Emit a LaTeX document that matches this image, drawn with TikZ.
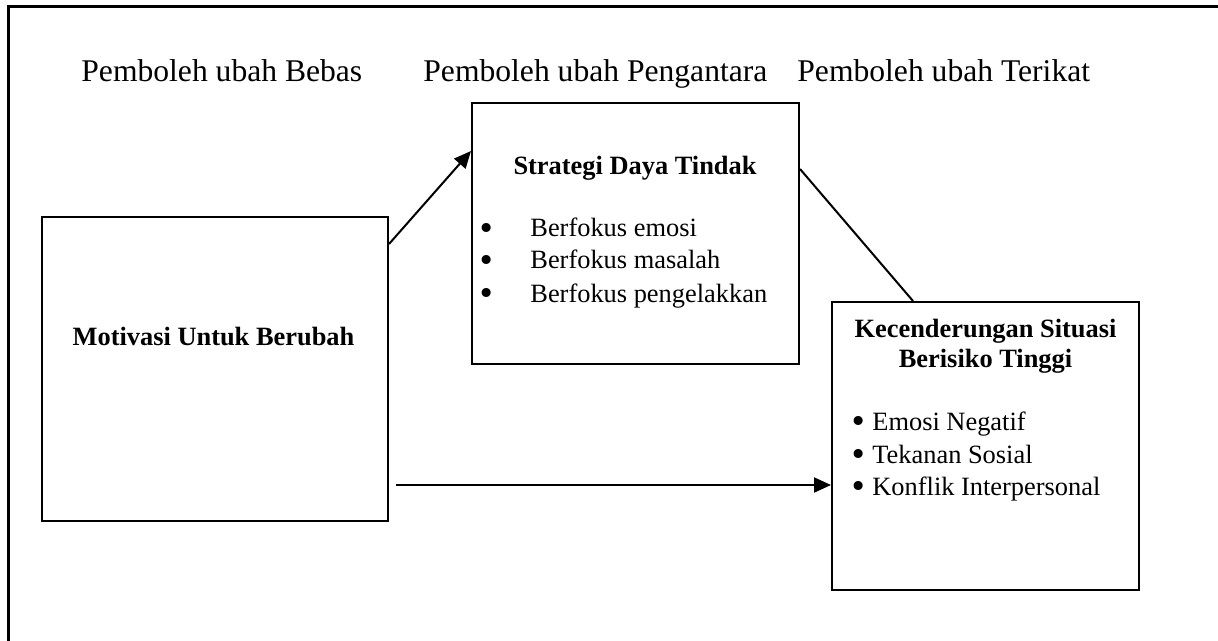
\documentclass[tikz,border=0pt]{standalone}
\usepackage{fontspec}
\setmainfont{Liberation Serif}
\newfontfamily\simbol{DejaVu Sans}
\usetikzlibrary{arrows.meta}

\newcommand{\titikbesar}{\raisebox{-1.2pt}{\simbol\fontsize{15.5}{16}\selectfont •}}

\tikzset{
	kotak/.style={draw,line width=1pt,inner sep=0pt},
	judul/.style={font=\fontsize{15.8}{19}\selectfont,inner sep=0pt},
	isi/.style={font=\fontsize{13.2}{16}\selectfont,inner sep=0pt},
	tebal/.style={font=\fontsize{13.2}{16}\selectfont\bfseries,inner sep=0pt},
	panah/.style={line width=1pt,-{Triangle[length=8.5pt,width=7.5pt]}}
}

\begin{document}
\begin{tikzpicture}[x=0.5pt,y=-0.5pt]
	\useasboundingbox (0,0) rectangle (1218,641);
	\draw[line width=1.5pt] (8,660) -- (8,7) -- (1240,7);

	\node[judul,anchor=base west](bebas) at (81,82) {Pemboleh ubah Bebas};
	\node[judul,anchor=base west](pengantara) at (423,82) {Pemboleh ubah Pengantara};
	\node[judul,anchor=base west](terikat) at (797,82) {Pemboleh ubah Terikat};

	\node[kotak,minimum width=173pt,minimum height=152pt](motivasi) at (215,369) {};
	\node[kotak,minimum width=163.5pt,minimum height=130.5pt](strategi) at (635.5,233.5) {};
	\node[kotak,minimum width=153.5pt,minimum height=144pt](situasi) at (985.5,446) {};

	\node[tebal,anchor=base](tmotivasi) at (213.5,345) {Motivasi Untuk Berubah};
	\node[tebal,anchor=base](tstrategi) at (635,175) {Strategi Daya Tindak};
	\foreach \y/\teks in {237/Berfokus emosi,269/Berfokus masalah,302/Berfokus pengelakkan}{
		\node[isi,anchor=base](titik\y) at (487,\y) {\titikbesar};
		\node[isi,anchor=base west](fokus\y) at (530,\y) {\teks};
	}
	\node[tebal,anchor=base](tsituasi1) at (985.5,337) {Kecenderungan Situasi};
	\node[tebal,anchor=base](tsituasi2) at (985.5,367) {Berisiko Tinggi};
	\foreach \y/\teks in {430/Emosi Negatif,463/Tekanan Sosial,495/Konflik Interpersonal}{
		\node[isi,anchor=base](bulat\y) at (859,\y) {\titikbesar};
		\node[isi,anchor=base west](risiko\y) at (872,\y) {\teks};
	}

	\coordinate (mula) at (396,485);
	\draw[panah] ([shift={(0,28)}]motivasi.north east) -- ([shift={(0,49)}]strategi.north west);
	\draw[line width=1pt] ([shift={(0,67)}]strategi.north east) -- ([shift={(82,0)}]situasi.north west);
	\draw[panah] (mula) -- (mula -| situasi.west);
\end{tikzpicture}
\end{document}
